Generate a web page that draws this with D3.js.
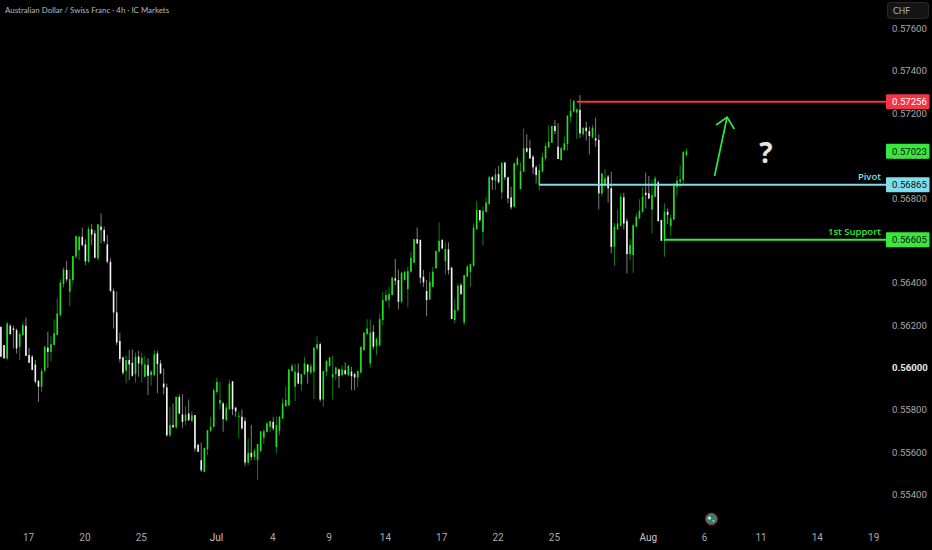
<!DOCTYPE html>
<html>
<head>
<meta charset="utf-8">
<script src="https://cdn.jsdelivr.net/npm/d3@7"></script>
<style>
  html, body { margin: 0; background: #000; }
  svg { display: block; }
  text { font-family: "Open Sans", "Liberation Sans", sans-serif; }
</style>
</head>
<body>
<div id="chart"></div>
<script>
const opens = [
56194,56108,56045,56199,56186,56179,56100,56155,56199,56061,
56053,56016,55939,55911,55987,56095,56076,56108,56155,56249,
56396,56462,56360,56415,56525,56556,56619,56583,56501,56654,
56635,56517,56667,56651,56583,56501,56363,56262,56127,56050,
55987,56037,56024,55971,56053,56016,55958,56013,55966,55966,
56068,56021,55926,55908,55682,55730,55719,55863,55780,55750,
55785,55750,55777,55638,55564,55509,55616,55703,55722,55887,
55832,55832,55753,55805,55937,55812,55769,55769,55749,55553,
55599,55580,55564,55608,55671,55698,55722,55745,55627,55703,
55761,55819,55824,55985,55911,55977,55923,55971,56016,55977,
55982,56092,56112,55851,55982,56010,55955,55971,55993,55966,
55989,55966,55982,55971,55955,55978,56084,56159,56021,56170,
56103,56107,56226,56317,56320,56344,56423,56415,56312,56415,
56372,56454,56497,56608,56604,56430,56363,56323,56383,56470,
56549,56604,56504,56560,56473,56226,56273,56391,56215,56430,
56454,56482,56656,56745,56643,56737,56774,56900,56884,56915,
56829,56969,56900,56805,56761,56958,56844,56926,57037,57037,
56997,56947,56863,56926,56989,57041,57063,57142,57044,56981,
57029,57057,57186,57210,57205,57218,57104,57134,57118,57088,
57084,57076,56824,56863,56903,56848,56572,56654,56670,56805,
56693,56537,56533,56667,56706,56737,56827,56824,56748,56808,
56876,56698,56600,56737,56670,56701,56855,56879,56887,57005];
const highs = [
56194,56108,56218,56207,56199,56186,56171,56215,56238,56095,
56061,56037,55942,55998,56105,56171,56152,56229,56328,56418,
56475,56504,56462,56528,56623,56623,56663,56607,56667,56679,
56651,56678,56730,56667,56627,56517,56375,56360,56166,56053,
56057,56084,56087,56073,56081,56072,56057,56045,55990,56084,
56081,56037,55997,55926,55816,55832,55867,55875,55875,55819,
55851,55796,55777,55638,55648,55623,55706,55769,55903,55955,
55934,55840,55832,55945,55937,55816,55793,55804,55766,55667,
55730,55619,55640,55701,55711,55745,55749,55769,55769,55774,
55856,55911,55993,56021,56018,56021,55971,56052,56016,56021,
56096,56150,56120,55985,56037,56052,56057,56005,55997,56010,
56026,56013,56005,55977,55989,56100,56167,56230,56230,56202,
56139,56254,56360,56367,56383,56427,56514,56465,56454,56459,
56478,56549,56608,56663,56607,56462,56415,56454,56478,56552,
56687,56608,56593,56593,56478,56325,56399,56402,56438,56486,
56493,56682,56789,56745,56761,56805,56906,56906,56942,56953,
56969,56974,56900,56855,56969,57000,56970,57131,57103,57076,
57005,56958,56963,57016,57063,57147,57142,57170,57155,57044,
57092,57191,57269,57262,57225,57288,57134,57162,57139,57147,
57181,57103,56918,56939,56911,56926,56685,56748,56824,56827,
56706,56608,56682,56730,56796,56855,56922,56906,56887,56906,
56884,56698,56777,56753,56722,56874,56906,56958,57021,57037];
const lows = [
56053,56045,56037,56155,56092,56068,56037,56150,56057,56024,
55990,55927,55840,55884,55982,56001,56032,56108,56155,56242,
56380,56407,56292,56394,56517,56509,56572,56486,56497,56580,
56517,56506,56588,56588,56493,56360,56186,56108,56026,55966,
55927,55942,55958,55931,55958,55931,55958,55872,55916,55961,
55880,55971,55875,55675,55675,55719,55714,55782,55717,55730,
55750,55745,55604,55604,55509,55509,55588,55698,55719,55879,
55804,55698,55750,55801,55777,55769,55667,55709,55536,55541,
55564,55564,55470,55604,55640,55695,55698,55703,55596,55682,
55761,55816,55819,55982,55843,55922,55892,55966,55926,55971,
55852,56084,55840,55816,55961,56005,55851,55942,55906,55961,
55966,55961,55895,55895,55908,55974,56084,56159,56000,56087,
56060,56100,56202,56312,56281,56341,56391,56276,56305,56415,
56286,56449,56493,56585,56399,56383,56245,56323,56383,56470,
56545,56560,56438,56441,56231,56210,56265,56344,56202,56430,
56383,56478,56651,56687,56577,56734,56769,56840,56840,56871,
56797,56887,56777,56748,56758,56953,56844,56926,57016,56986,
56915,56871,56837,56923,56978,57041,57063,57104,56986,56978,
57025,57025,57159,57205,57081,57084,57092,57073,57008,57084,
57044,56748,56811,56855,56780,56541,56482,56651,56670,56654,
56446,56509,56449,56663,56701,56733,56753,56796,56635,56805,
56690,56600,56525,56679,56624,56698,56811,56852,56863,56997];
const closes = [
56053,56045,56210,56160,56179,56092,56160,56202,56057,56024,
55990,55935,55911,55985,56100,56076,56112,56163,56257,56402,
56465,56418,56419,56528,56623,56619,56580,56504,56656,56630,
56520,56678,56651,56599,56501,56363,56262,56120,56042,55977,
56037,56016,55963,56053,56021,56048,56016,55963,55982,56065,
56018,55974,55908,55682,55730,55719,55863,55785,55745,55780,
55753,55777,55619,55604,55517,55623,55706,55722,55895,55934,
55848,55758,55813,55926,55805,55796,55774,55714,55553,55599,
55580,55608,55640,55701,55701,55738,55749,55714,55730,55769,
55832,55848,55993,56010,55982,55926,55971,56021,55982,56008,
56096,56112,55851,55985,56032,56049,55971,56002,55961,55993,
55971,56010,55961,55955,55985,56100,56167,56186,56167,56100,
56139,56230,56320,56344,56349,56427,56412,56312,56449,56454,
56457,56520,56608,56588,56426,56404,56320,56407,56454,56552,
56600,56564,56560,56462,56231,56273,56388,56349,56438,56478,
56490,56662,56745,56698,56741,56780,56900,56887,56914,56876,
56969,56900,56800,56758,56966,56989,56929,57037,57021,56989,
56947,56911,56934,56994,57048,57068,57142,57118,56986,57037,
57060,57191,57214,57262,57221,57107,57134,57118,57095,57134,
57073,56824,56918,56895,56848,56572,56667,56682,56808,56682,
56537,56580,56674,56714,56742,56808,56816,56800,56816,56895,
56693,56600,56737,56722,56706,56860,56884,56890,57021,57023];

const priceTicks = [0.576, 0.574, 0.572, 0.57, 0.568, 0.566, 0.564, 0.562, 0.56, 0.558, 0.556, 0.554];
const dateBars = [9, 27, 45, 69, 87, 105, 123, 141, 159, 177, 207, 225, 243, 261, 279];
const dateLabels = ["17", "20", "25", "Jul", "4", "9", "14", "17", "22", "25", "Aug", "6", "11", "14", "19"];

// horizontal levels: name, price, bar where the line starts
const levelNames = ["", "Pivot", "1st Support"];
const levelPrices = [0.57256, 0.56865, 0.56605];
const levelStarts = [184, 172, 212];
const levelColors = ["#f23645", "#80deea", "#39e83c"];
const lastPrice = 0.57023;

// hand drawn arrow, in bars and prices
const arrowBars = [228, 232];
const arrowPrices = [0.56906, 0.57184];
const headBars = [228.5, 232, 234.3];
const headPrices = [0.57147, 0.57184, 0.57128];

const width = 932, height = 550;
const plotRight = 886;

const svg = d3.select("#chart").append("svg")
  .attr("width", width)
  .attr("height", height);

svg.append("rect").attr("width", width).attr("height", height).attr("fill", "#000");

const x = d3.scaleLinear().domain([0, 219]).range([0.9, 686.4]);
const y = d3.scaleLinear().domain([0.554, 0.576]).range([495, 29]);
const py = v => y(v / 1e5);

// candles
const candles = svg.append("g").selectAll("g")
  .data(opens.map((o, i) => ({ i, o, h: highs[i], l: lows[i], c: closes[i] })))
  .join("g");

candles.append("line")
  .attr("x1", d => x(d.i)).attr("x2", d => x(d.i))
  .attr("y1", d => py(d.h)).attr("y2", d => py(d.l))
  .attr("stroke", d => d.c >= d.o ? "#0f7f12" : "#7c7c7c")
  .attr("stroke-width", 1);

candles.append("rect")
  .attr("x", d => x(d.i) - 0.8)
  .attr("width", 1.6)
  .attr("y", d => py(Math.max(d.o, d.c)))
  .attr("height", d => Math.max(1, py(Math.min(d.o, d.c)) - py(Math.max(d.o, d.c))))
  .attr("fill", d => d.c >= d.o ? "#22e322" : "#f4f4f4");

// axes
const yAxis = svg.append("g")
  .attr("transform", `translate(${plotRight + 6},-0.5)`)
  .call(d3.axisRight(y).tickValues(priceTicks).tickFormat(d3.format(".5f")).tickSize(0).tickPadding(0));
yAxis.select(".domain").remove();
yAxis.selectAll("text")
  .style("font-family", "Roboto")
  .style("font-size", "9.6px")
  .attr("fill", d => d === 0.56 ? "#e8e8e8" : "#a8a8a8")
  .style("font-weight", d => d === 0.56 ? 700 : 400);

const xAxis = svg.append("g")
  .attr("transform", "translate(-1,534)")
  .call(d3.axisBottom(x).tickValues(dateBars).tickFormat((d, i) => dateLabels[i]).tickSize(0).tickPadding(0));
xAxis.select(".domain").remove();
xAxis.selectAll("text")
  .style("font-family", "Roboto")
  .style("font-size", "10px")
  .attr("fill", d => d === 69 || d === 207 ? "#c8c8c8" : "#a8a8a8");

// levels
svg.append("g").selectAll("line")
  .data(levelPrices)
  .join("line")
  .attr("x1", (d, i) => x(levelStarts[i]))
  .attr("x2", plotRight)
  .attr("y1", d => y(d)).attr("y2", d => y(d))
  .attr("stroke", (d, i) => levelColors[i])
  .attr("stroke-width", 2);

svg.append("g").selectAll("text")
  .data(levelNames)
  .join("text")
  .attr("x", 881)
  .attr("y", (d, i) => y(levelPrices[i]) - 5)
  .attr("text-anchor", "end")
  .attr("fill", (d, i) => levelColors[i])
  .style("font-size", "9.5px")
  .style("font-weight", 600)
  .text(d => d);

// price tags on the axis
const tags = levelPrices.concat(lastPrice);
const tagColors = levelColors.concat("#39e83c");
const tagGroup = svg.append("g").selectAll("g")
  .data(tags)
  .join("g")
  .attr("transform", d => `translate(886,${y(d)})`);

tagGroup.append("rect")
  .attr("y", -7.5).attr("width", 43.5).attr("height", 15).attr("rx", 1)
  .attr("fill", (d, i) => tagColors[i]);

tagGroup.append("text")
  .attr("x", 6).attr("y", 3.5)
  .attr("fill", (d, i) => i === 0 ? "#fff" : "#111")
  .style("font-family", "Roboto")
  .style("font-size", "9.6px")
  .text(d => d3.format(".5f")(d));

// arrow and question mark
svg.append("line")
  .attr("x1", x(arrowBars[0])).attr("y1", y(arrowPrices[0]))
  .attr("x2", x(arrowBars[1])).attr("y2", y(arrowPrices[1]))
  .attr("stroke", "#2ee84a").attr("stroke-width", 1.7);

svg.append("path")
  .attr("d", d3.line().x(d => x(d[0])).y(d => y(d[1]))(headBars.map((b, i) => [b, headPrices[i]])))
  .attr("fill", "none")
  .attr("stroke", "#2ee84a").attr("stroke-width", 1.7);

svg.append("text")
  .attr("x", 766).attr("y", 163)
  .attr("text-anchor", "middle")
  .attr("fill", "#e4e4e4")
  .style("font-size", "28px")
  .style("font-weight", 700)
  .text("?");

// title and currency button
svg.append("text")
  .attr("x", 5).attr("y", 13)
  .attr("fill", "#b8b8b8")
  .style("font-family", "Lato")
  .style("font-size", "7.9px")
  .text("Australian Dollar / Swiss Franc · 4h · IC Markets");

svg.append("rect")
  .attr("x", 887.5).attr("y", 2.5).attr("width", 41).attr("height", 16).attr("rx", 3)
  .attr("fill", "#141414").attr("stroke", "#2a2a2a");

svg.append("text")
  .attr("x", 893).attr("y", 14)
  .attr("fill", "#b0b0b0")
  .style("font-family", "Lato")
  .style("font-size", "8.5px")
  .text("CHF");

// events marker near the time axis
const marker = svg.append("g").attr("transform", `translate(${x(227)},519)`);
marker.append("circle").attr("r", 5.8).attr("fill", "#2a8377").attr("stroke", "#d8202c").attr("stroke-width", 1);
marker.append("circle").attr("cx", -2).attr("cy", -1).attr("r", 1.6).attr("fill", "#d5e8e2");
marker.append("circle").attr("cx", 2).attr("cy", 2).attr("r", 1).attr("fill", "#9fd0c6");
</script>
</body>
</html>
